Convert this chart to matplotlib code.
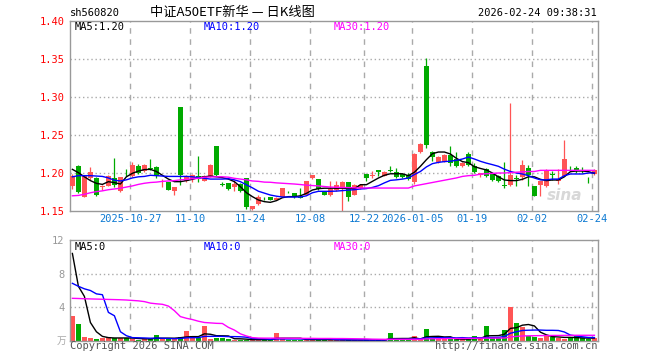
import matplotlib
matplotlib.use('Agg')
import matplotlib.pyplot as plt
import numpy as np

plt.rcParams['font.family'] = ['DejaVu Sans Mono', 'Noto Sans CJK SC']

# daily candles, oldest first (2025-10-13 .. 2026-02-24)
opens = [1.1825, 1.2096, 1.169, 1.1934, 1.1939, 1.181, 1.1833, 1.193, 1.1759, 1.2005,
         1.1965, 1.2096, 1.2022, 1.2066, 1.208, 1.189, 1.188, 1.1759, 1.287, 1.189,
         1.192, 1.1955, 1.190, 1.1965, 1.2355, 1.186, 1.1873, 1.1816, 1.186, 1.1934,
         1.153, 1.1596, 1.1675, 1.1684, 1.165, 1.1689, 1.175, 1.1737, 1.169, 1.1715,
         1.193, 1.1925, 1.1754, 1.1715, 1.177, 1.1798, 1.1886, 1.1706, 1.180, 1.1991,
         1.1962, 1.2044, 1.1965, 1.2035, 1.2018, 1.1991, 1.1974, 1.1877, 1.2272, 1.341,
         1.2275, 1.214, 1.2147, 1.2237, 1.218, 1.2095, 1.2254, 1.2088, 1.1975, 1.2053,
         1.1982, 1.1956, 1.1842, 1.1846, 1.1928, 1.1947, 1.2066, 1.1833, 1.1846, 1.1825,
         1.1980, 1.190, 1.1965, 1.2068, 1.207, 1.2033, 1.1910, 1.1991]
highs = [1.199, 1.210, 1.197, 1.2083, 1.1952, 1.1846, 1.198, 1.2197, 1.1952, 1.205,
         1.215, 1.2123, 1.212, 1.219, 1.2096, 1.1925, 1.188, 1.1816, 1.287, 1.198,
         1.199, 1.2224, 1.197, 1.212, 1.2355, 1.1886, 1.1873, 1.191, 1.1866, 1.1934,
         1.157, 1.1706, 1.1684, 1.169, 1.168, 1.1807, 1.176, 1.1737, 1.1807, 1.189,
         1.1978, 1.1925, 1.1754, 1.19, 1.189, 1.1895, 1.1886, 1.186, 1.186, 1.1991,
         1.2026, 1.2044, 1.202, 1.2096, 1.207, 1.1991, 1.200, 1.226, 1.2395, 1.351,
         1.2285, 1.2225, 1.2245, 1.2355, 1.228, 1.215, 1.2272, 1.213, 1.2005, 1.2066,
         1.1995, 1.197, 1.214, 1.2921, 1.1978, 1.2167, 1.211, 1.1833, 1.19, 1.205,
         1.2022, 1.2057, 1.2439, 1.2088, 1.2088, 1.2075, 1.1947, 1.205]
lows = [1.179, 1.174, 1.168, 1.1912, 1.170, 1.178, 1.1825, 1.1816, 1.1746, 1.1956,
        1.195, 1.199, 1.201, 1.2035, 1.1934, 1.181, 1.177, 1.1715, 1.1846, 1.188,
        1.188, 1.1886, 1.189, 1.195, 1.196, 1.1825, 1.177, 1.176, 1.175, 1.153,
        1.151, 1.1583, 1.165, 1.164, 1.164, 1.1689, 1.1737, 1.1675, 1.1667, 1.171,
        1.192, 1.177, 1.1705, 1.170, 1.176, 1.1496, 1.1627, 1.1706, 1.179, 1.189,
        1.1934, 1.1965, 1.196, 1.2009, 1.193, 1.1935, 1.191, 1.186, 1.226, 1.2325,
        1.2152, 1.213, 1.2147, 1.209, 1.208, 1.208, 1.2088, 1.200, 1.1945, 1.1945,
        1.1895, 1.1885, 1.1803, 1.1825, 1.1825, 1.1912, 1.1833, 1.1693, 1.1693, 1.181,
        1.1912, 1.1855, 1.196, 1.2035, 1.200, 1.200, 1.1868, 1.198]
closes = [1.1965, 1.1754, 1.1965, 1.2018, 1.1715, 1.1825, 1.1965, 1.1846, 1.1952, 1.1995,
          1.211, 1.200, 1.211, 1.205, 1.1956, 1.1895, 1.178, 1.1816, 1.1978, 1.1965,
          1.197, 1.1915, 1.196, 1.211, 1.1975, 1.1845, 1.179, 1.186, 1.176, 1.1553,
          1.157, 1.168, 1.1668, 1.165, 1.1675, 1.1807, 1.1746, 1.1689, 1.1675, 1.189,
          1.1974, 1.179, 1.1715, 1.179, 1.1846, 1.1886, 1.168, 1.1846, 1.1846, 1.1934,
          1.1966, 1.2018, 1.2013, 1.2026, 1.1947, 1.1947, 1.192, 1.2254, 1.2386, 1.237,
          1.2205, 1.2215, 1.2238, 1.213, 1.2092, 1.2132, 1.211, 1.2018, 1.200, 1.1956,
          1.1904, 1.190, 1.1835, 1.1978, 1.1922, 1.211, 1.1978, 1.1702, 1.190, 1.2035,
          1.1975, 1.1925, 1.2184, 1.2063, 1.2035, 1.2030, 1.1905, 1.2035]

ma5 = [1.2048, 1.2004, 1.195, 1.19, 1.1864, 1.185, 1.1886, 1.1873, 1.1855, 1.195,
       1.1996, 1.2025, 1.2045, 1.2048, 1.202, 1.197, 1.192, 1.1886, 1.1886, 1.19,
       1.1917, 1.1939, 1.195, 1.196, 1.195, 1.1939, 1.192, 1.1886, 1.182, 1.1741,
       1.1689, 1.1645, 1.1623, 1.1614, 1.1636, 1.1675, 1.1689, 1.1689, 1.170, 1.1732,
       1.1776, 1.1794, 1.18, 1.18, 1.18, 1.18, 1.1797, 1.1794, 1.1846, 1.1846,
       1.189, 1.1934, 1.197, 1.199, 1.199, 1.199, 1.1965, 1.201, 1.2088, 1.2175,
       1.2254, 1.2276, 1.2276, 1.225, 1.2193, 1.215, 1.2136, 1.2083, 1.206, 1.204,
       1.20, 1.195, 1.1908, 1.19, 1.19, 1.1917, 1.195, 1.195, 1.1917, 1.19,
       1.1908, 1.1908, 1.195, 1.2018, 1.2026, 1.2026, 1.2018, 1.1996]
ma10 = [1.195, 1.1965, 1.1965, 1.1965, 1.196, 1.1955, 1.1935, 1.1905, 1.1895, 1.191,
        1.1935, 1.195, 1.1955, 1.197, 1.1965, 1.196, 1.1955, 1.1955, 1.1955, 1.1955,
        1.195, 1.194, 1.193, 1.192, 1.192, 1.192, 1.1925, 1.191, 1.1886, 1.1845,
        1.1805, 1.176, 1.1735, 1.171, 1.1695, 1.1684, 1.1684, 1.1684, 1.1684, 1.170,
        1.174, 1.1759, 1.1759, 1.1759, 1.1762, 1.1768, 1.1775, 1.178, 1.179, 1.1795,
        1.181, 1.1833, 1.187, 1.1903, 1.191, 1.192, 1.1934, 1.198, 1.202, 1.208,
        1.2123, 1.214, 1.215, 1.2155, 1.2167, 1.2184, 1.221, 1.2184, 1.2154, 1.213,
        1.211, 1.2088, 1.205, 1.202, 1.20, 1.1987, 1.1965, 1.1934, 1.191, 1.191,
        1.192, 1.192, 1.1965, 1.1987, 1.1987, 1.1987, 1.20, 1.20]
ma30 = [1.170, 1.1705, 1.172, 1.174, 1.1755, 1.1765, 1.178, 1.179, 1.180, 1.1815,
        1.183, 1.185, 1.1865, 1.1875, 1.188, 1.189, 1.1895, 1.19, 1.191, 1.1915,
        1.1925, 1.193, 1.1945, 1.1948, 1.195, 1.195, 1.1945, 1.193, 1.192, 1.191,
        1.1895, 1.189, 1.188, 1.1878, 1.187, 1.1865, 1.186, 1.1855, 1.1848, 1.184,
        1.1835, 1.183, 1.1822, 1.1815, 1.1812, 1.181, 1.1808, 1.1805, 1.1803, 1.1803,
        1.1802, 1.1802, 1.1802, 1.1802, 1.1802, 1.1802, 1.1802, 1.183, 1.1845, 1.186,
        1.1875, 1.189, 1.1905, 1.192, 1.1935, 1.1955, 1.1965, 1.197, 1.1985, 1.199,
        1.1995, 1.20, 1.20, 1.2005, 1.201, 1.2015, 1.202, 1.202, 1.2035, 1.2035,
        1.2035, 1.2035, 1.2035, 1.2035, 1.2035, 1.2035, 1.2035, 1.2035]

# volume in 万
volume = [2.97, 2.02, 0.48, 0.36, 0.24, 0.36, 0.48, 0.36, 0.36, 0.30,
          0.24, 0.16, 0.24, 0.20, 0.71, 0.24, 0.30, 0.20, 0.48, 1.19,
          0.44, 0.30, 1.82, 0.24, 0.36, 0.36, 0.24, 0.16, 0.16, 0.16,
          0.16, 0.16, 0.16, 0.16, 0.95, 0.20, 0.16, 0.16, 0.16, 0.16,
          0.16, 0.16, 0.16, 0.12, 0.10, 0.12, 0.10, 0.12, 0.10, 0.12,
          0.10, 0.12, 0.10, 0.95, 0.15, 0.12, 0.15, 0.60, 0.20, 1.43,
          0.30, 0.25, 0.20, 0.25, 0.20, 0.20, 0.25, 0.60, 0.20, 1.78,
          0.30, 0.30, 1.30, 4.04, 2.14, 1.70, 0.60, 0.48, 0.32, 0.71,
          0.48, 0.40, 0.24, 0.30, 0.60, 0.30, 0.24, 0.30]
vma5 = [10.4, 6.5, 5.3, 2.2, 1.1, 0.55, 0.40, 0.36, 0.36, 0.36,
        0.35, 0.30, 0.26, 0.24, 0.33, 0.33, 0.34, 0.33, 0.39, 0.48,
        0.52, 0.52, 0.85, 0.80, 0.63, 0.62, 0.60, 0.27, 0.26, 0.22,
        0.16, 0.16, 0.16, 0.16, 0.32, 0.33, 0.33, 0.33, 0.33, 0.17,
        0.16, 0.16, 0.16, 0.15, 0.14, 0.13, 0.12, 0.11, 0.11, 0.11,
        0.11, 0.11, 0.11, 0.28, 0.29, 0.30, 0.30, 0.39, 0.24, 0.50,
        0.54, 0.56, 0.48, 0.50, 0.24, 0.22, 0.22, 0.30, 0.29, 0.61,
        0.63, 0.64, 0.80, 1.50, 1.58, 1.88, 1.96, 1.79, 1.05, 0.73,
        0.52, 0.48, 0.43, 0.43, 0.40, 0.37, 0.34, 0.35]
vma10 = [6.85, 6.5, 6.2, 6.0, 5.6, 5.5, 3.4, 3.0, 1.1, 0.63,
         0.40, 0.38, 0.36, 0.33, 0.35, 0.33, 0.30, 0.28, 0.30, 0.38,
         0.40, 0.40, 0.55, 0.55, 0.56, 0.55, 0.52, 0.52, 0.50, 0.45,
         0.30, 0.27, 0.25, 0.20, 0.24, 0.24, 0.24, 0.24, 0.24, 0.24,
         0.24, 0.24, 0.24, 0.24, 0.16, 0.15, 0.14, 0.13, 0.13, 0.12,
         0.12, 0.12, 0.12, 0.20, 0.20, 0.20, 0.21, 0.25, 0.27, 0.37,
         0.38, 0.40, 0.40, 0.40, 0.37, 0.40, 0.36, 0.39, 0.38, 0.42,
         0.42, 0.43, 0.54, 0.92, 1.10, 1.25, 1.28, 1.30, 1.30, 1.27,
         1.27, 1.25, 1.07, 0.70, 0.60, 0.50, 0.42, 0.41]
vma30 = [5.07, 5.05, 5.02, 5.0, 4.98, 4.96, 4.94, 4.92, 4.9, 4.87,
         4.82, 4.77, 4.68, 4.5, 4.42, 4.36, 4.15, 3.6, 2.9, 2.7,
         2.55, 2.35, 2.2, 2.15, 2.1, 2.08, 1.62, 1.3, 0.85, 0.6,
         0.40, 0.35, 0.34, 0.34, 0.34, 0.33, 0.33, 0.32, 0.32, 0.31,
         0.31, 0.30, 0.30, 0.30, 0.29, 0.29, 0.28, 0.27, 0.26, 0.25,
         0.22, 0.21, 0.20, 0.20, 0.20, 0.20, 0.20, 0.20, 0.20, 0.25,
         0.26, 0.27, 0.28, 0.29, 0.30, 0.30, 0.31, 0.32, 0.33, 0.34,
         0.34, 0.35, 0.35, 0.48, 0.55, 0.60, 0.62, 0.63, 0.64, 0.65,
         0.66, 0.66, 0.67, 0.67, 0.68, 0.68, 0.68, 0.68]

date_labels = ['2025-10-27', '11-10', '11-24', '12-08', '12-22',
               '2026-01-05', '01-19', '02-02', '02-24']
date_index = [10, 20, 30, 40, 49, 57, 67, 77, 87]

RED = '#ff5555'
GREEN = '#00aa00'
GRID = '#aaaaaa'
W, H = 660, 360

o = np.array(opens); c = np.array(closes)
hi = np.array(highs); lo = np.array(lows)
x = np.arange(len(o))
up = c >= o
cols = np.where(up, RED, GREEN)

fig = plt.figure(figsize=(6.6, 3.6), dpi=100)
ax = fig.add_axes([70 / W, 1 - 211 / H, 528 / W, 190 / H])
axv = fig.add_axes([70 / W, 1 - 341 / H, 528 / W, 101 / H])

grid_x = [i - 0.33 for i in date_index]
for a in (ax, axv):
    a.set_xlim(-0.4, len(o) - 0.4)
    for gx in grid_x:
        a.axvline(gx, color=GRID, lw=1, ls=(0, (4, 4)), zorder=0)
    for s in a.spines.values():
        s.set_color('#999999')
        s.set_linewidth(1)
    a.tick_params(length=0)

# price panel
ax.set_ylim(1.15, 1.40)
for gy in [1.20, 1.25, 1.30, 1.35]:
    ax.axhline(gy, color=GRID, lw=1, ls=(0, (1, 2)), zorder=0)
ax.vlines(x, lo, hi, colors=cols, lw=0.9, zorder=2)
body = np.maximum(np.abs(c - o), 0.0008)
ax.bar(x, body, bottom=np.minimum(o, c), width=0.75, color=cols, zorder=3)
ax.plot(x, ma5, color='black', lw=1, zorder=4)
ax.plot(x, ma10, color='#0000ff', lw=1, zorder=4)
ax.plot(x, ma30, color='#ff00ff', lw=1, zorder=4)
ax.set_yticks([1.15, 1.20, 1.25, 1.30, 1.35, 1.40])
ax.set_yticklabels(['%.2f' % v for v in [1.15, 1.20, 1.25, 1.30, 1.35, 1.40]],
                   color='red', fontsize=7.5)
ax.tick_params(axis='y', pad=4)
ax.set_xticks(grid_x)
ax.set_xticklabels(date_labels, color='#0a78d2', fontsize=7.5)
ax.tick_params(axis='x', pad=2)
# faint sina watermark, bottom right of the price panel
ax.text(0.97, 0.04, 'sina', transform=ax.transAxes, fontsize=11,
        fontweight='bold', style='italic', color='#d8d8d8',
        ha='right', va='bottom', family='DejaVu Sans', zorder=1)

# volume panel
axv.set_ylim(0, 12)
for gy in [4, 8]:
    axv.axhline(gy, color=GRID, lw=1, ls=(0, (1, 2)), zorder=0)
axv.bar(x, volume, width=0.75, color=cols, zorder=2)
axv.plot(x, vma5, color='black', lw=1, zorder=3)
axv.plot(x, vma10, color='#0000ff', lw=1, zorder=3)
axv.plot(x, vma30, color='#ff00ff', lw=1, zorder=3)
axv.set_yticks([4, 8, 12])
axv.set_yticklabels(['4', '8', '12'], color='#999999', fontsize=7.5)
axv.tick_params(axis='y', pad=4)
axv.set_xticks([])

def ftext(px, py, s, **kw):
    fig.text(px / W, 1 - py / H, s, **kw)

ftext(70, 13, 'sh560820', fontsize=7.5, color='black', va='center')
ftext(232, 12, '中证A50ETF新华 — 日K线图', fontsize=9.5, color='black',
      va='center', ha='center', family=['Noto Sans CJK SC', 'DejaVu Sans'])
ftext(597, 13, '2026-02-24 09:38:31', fontsize=7.5, color='black',
      va='center', ha='right')

ftext(75, 27, 'MA5:1.20', fontsize=7.5, color='black', va='center')
ftext(204, 27, 'MA10:1.20', fontsize=7.5, color='#0000ff', va='center')
ftext(334, 27, 'MA30:1.20', fontsize=7.5, color='#ff00ff', va='center')
ftext(75, 247, 'MA5:0', fontsize=7.5, color='black', va='center')
ftext(204, 247, 'MA10:0', fontsize=7.5, color='#0000ff', va='center')
ftext(334, 247, 'MA30:0', fontsize=7.5, color='#ff00ff', va='center')

ftext(66, 341, '万', fontsize=7, color='#aaaaaa', va='center', ha='right',
      family=['Noto Sans CJK SC', 'DejaVu Sans'])
ftext(70, 346, 'Copyright 2026 SINA.COM', fontsize=7.5, color='#555555', va='center')
ftext(597, 346, 'http://finance.sina.com.cn', fontsize=7.5, color='#555555',
      va='center', ha='right')

fig.savefig('out.png', dpi=100)
